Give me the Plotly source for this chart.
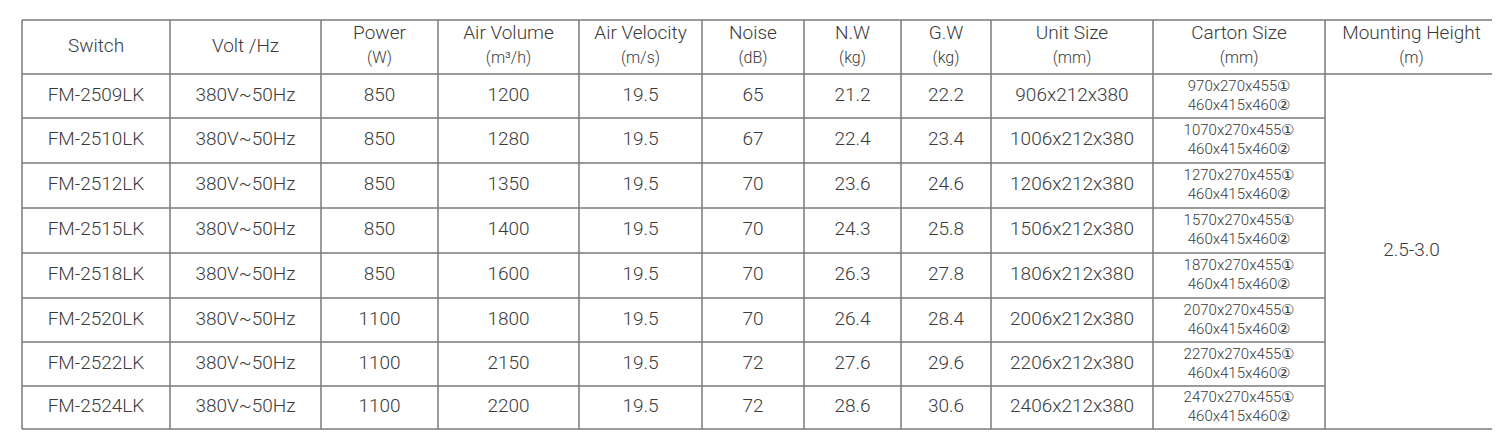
import plotly.graph_objects as go

# table content
headers = ["Switch", "Volt /Hz", "Power", "Air Volume", "Air Velocity", "Noise",
           "N.W", "G.W", "Unit Size", "Carton Size", "Mounting Height"]
units = ["", "", "(W)", "(m³/h)", "(m/s)", "(dB)", "(kg)", "(kg)", "(mm)", "(mm)", "(m)"]
models = ["FM-2509LK", "FM-2510LK", "FM-2512LK", "FM-2515LK",
          "FM-2518LK", "FM-2520LK", "FM-2522LK", "FM-2524LK"]
volt = ["380V~50Hz"] * 8
power = ["850", "850", "850", "850", "850", "1100", "1100", "1100"]
air_volume = ["1200", "1280", "1350", "1400", "1600", "1800", "2150", "2200"]
air_velocity = ["19.5"] * 8
noise = ["65", "67", "70", "70", "70", "70", "72", "72"]
nw = ["21.2", "22.4", "23.6", "24.3", "26.3", "26.4", "27.6", "28.6"]
gw = ["22.2", "23.4", "24.6", "25.8", "27.8", "28.4", "29.6", "30.6"]
unit_size = ["906x212x380", "1006x212x380", "1206x212x380", "1506x212x380",
             "1806x212x380", "2006x212x380", "2206x212x380", "2406x212x380"]
carton_1 = ["970x270x455①", "1070x270x455①", "1270x270x455①", "1570x270x455①",
            "1870x270x455①", "2070x270x455①", "2270x270x455①", "2470x270x455①"]
carton_2 = ["460x415x460②"] * 8
mounting = "2.5-3.0"

# grid geometry (pixel coords on a 1500x433 canvas)
col_edges = [14, 162, 313, 430, 571, 694, 796, 893, 983, 1145, 1317, 1490]
row_edges = [12, 66, 110, 155, 200, 245, 290, 334, 378, 421]

FONT = "Roboto, sans-serif"
TXT = "#3a3a3a"
LINE = dict(color="#7a7a7a", width=1.5)

fig = go.Figure()

cx = [(col_edges[i] + col_edges[i + 1]) / 2 for i in range(len(col_edges) - 1)]
ry = [(row_edges[i] + row_edges[i + 1]) / 2 for i in range(len(row_edges) - 1)]

# header
hx, hy, ht = [], [], []
ux, uy, ut = [], [], []
for i, h in enumerate(headers):
    hx.append(cx[i])
    if units[i]:
        hy.append(row_edges[0] + 14)
        ux.append(cx[i]); uy.append(row_edges[0] + 39); ut.append(units[i])
    else:
        hy.append(ry[0])
    ht.append(h)
fig.add_trace(go.Scatter(x=hx, y=hy, text=ht, mode="text",
                         textfont=dict(family=FONT, size=19, color=TXT, weight=300)))
fig.add_trace(go.Scatter(x=ux, y=uy, text=ut, mode="text",
                         textfont=dict(family=FONT, size=16, color=TXT, weight=300)))

# body
cols = [models, volt, power, air_volume, air_velocity, noise, nw, gw, unit_size]
bx, by, bt = [], [], []
for c, vals in enumerate(cols):
    for r, v in enumerate(vals):
        bx.append(cx[c]); by.append(ry[r + 1]); bt.append(v)
fig.add_trace(go.Scatter(x=bx, y=by, text=bt, mode="text",
                         textfont=dict(family=FONT, size=19, color=TXT, weight=300)))

kx, ky, kt = [], [], []
for r in range(len(models)):
    kx += [cx[9], cx[9]]
    ky += [ry[r + 1] - 9, ry[r + 1] + 10]
    kt += [carton_1[r], carton_2[r]]
fig.add_trace(go.Scatter(x=kx, y=ky, text=kt, mode="text",
                         textfont=dict(family=FONT, size=15, color=TXT, weight=300)))

fig.add_trace(go.Scatter(x=[cx[10]], y=[(row_edges[1] + row_edges[-1]) / 2],
                         text=[mounting], mode="text",
                         textfont=dict(family=FONT, size=19, color=TXT, weight=300)))

# grid lines
shapes = []
for x in col_edges:
    shapes.append(dict(type="line", x0=x, x1=x, y0=row_edges[0], y1=row_edges[-1], line=LINE))
for j, y in enumerate(row_edges):
    x1 = col_edges[-1] if j in (0, 1, len(row_edges) - 1) else col_edges[-2]
    shapes.append(dict(type="line", x0=col_edges[0], x1=x1, y0=y, y1=y, line=LINE))

fig.update_layout(
    width=1500, height=433, showlegend=False, shapes=shapes,
    paper_bgcolor="white", plot_bgcolor="white",
    margin=dict(l=0, r=0, t=0, b=0),
    xaxis=dict(range=[0, 1500], visible=False, fixedrange=True),
    yaxis=dict(range=[433, 0], visible=False, fixedrange=True),
)

fig.write_html("out.html")
